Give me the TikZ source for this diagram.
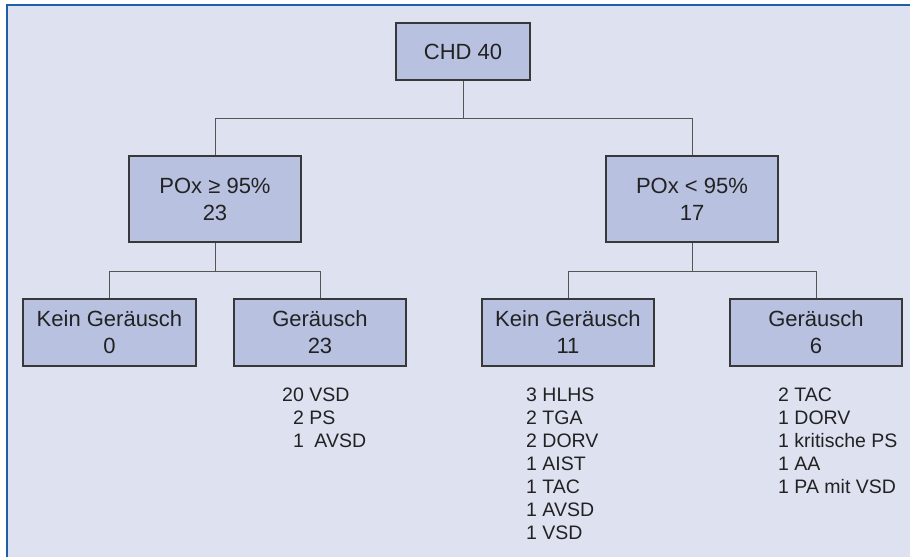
\documentclass[tikz,border=0pt]{standalone}
\usepackage{fontspec}
\setmainfont{Liberation Sans}
\definecolor{bgc}{HTML}{DDE1F0}
\definecolor{boxc}{HTML}{B8C2E0}
\definecolor{framec}{HTML}{1F5FA8}
\definecolor{linec}{HTML}{555555}
\definecolor{txtc}{HTML}{222222}
\tikzset{
  tbox/.style={draw=txtc!90, line width=1.1pt, fill=boxc, align=center, inner sep=0pt,
    text=txtc, font=\fontsize{22}{27}\selectfont},
  conn/.style={draw=linec, line width=1pt},
  listtxt/.style={align=left, inner sep=0pt, anchor=north west, text=txtc,
    font=\fontsize{19.5}{23}\selectfont}
}
\begin{document}
\begin{tikzpicture}[x=1pt,y=-1pt]
\useasboundingbox (0,0) rectangle (910,557);
\fill[white] (0,0) rectangle (910,557);
\fill[bgc] (7,5) rectangle (910,557);
\draw[framec, line width=2pt] (7,557) -- (7,5) -- (910,5);

\node[tbox, minimum width=134pt, minimum height=57pt] (chd) at (463,51.5) {CHD 40};
\node[tbox, minimum width=172pt, minimum height=86pt] (pge) at (215,199) {POx ≥ 95\%\\23};
\node[tbox, minimum width=172pt, minimum height=86pt] (plt) at (692,199) {POx < 95\%\\17};
\node[tbox, minimum width=173pt, minimum height=67pt] (k0) at (109.5,332.5) {Kein Geräusch\\0};
\node[tbox, minimum width=172pt, minimum height=67pt] (g23) at (320,332.5) {Geräusch\\23};
\node[tbox, minimum width=172pt, minimum height=67pt] (k11) at (568,332.5) {Kein Geräusch\\11};
\node[tbox, minimum width=172pt, minimum height=67pt] (g6) at (816,332.5) {Geräusch\\6};

\coordinate (j1) at (463,118);
\coordinate (j2) at (215,271);
\coordinate (j3) at (692,271);

\draw[conn] (chd.south) -- (j1);
\draw[conn] (j1) -| (pge.north);
\draw[conn] (j1) -| (plt.north);
\draw[conn] (pge.south) -- (j2);
\draw[conn] (j2) -| (k0.north);
\draw[conn] (j2) -| (g23.north);
\draw[conn] (plt.south) -- (j3);
\draw[conn] (j3) -| (k11.north);
\draw[conn] (j3) -| (g6.north);

\node[listtxt] (l23) at (282,388) {20 VSD\\\hspace*{11pt}2 PS\\\hspace*{11pt}1\hspace*{5pt} AVSD};
\node[listtxt] (l11) at (526,388) {3 HLHS\\2 TGA\\2 DORV\\1 AIST\\1 TAC\\1 AVSD\\1 VSD};
\node[listtxt] (l6) at (778,388) {2 TAC\\1 DORV\\1 kritische PS\\1 AA\\1 PA mit VSD};
\end{tikzpicture}
\end{document}
